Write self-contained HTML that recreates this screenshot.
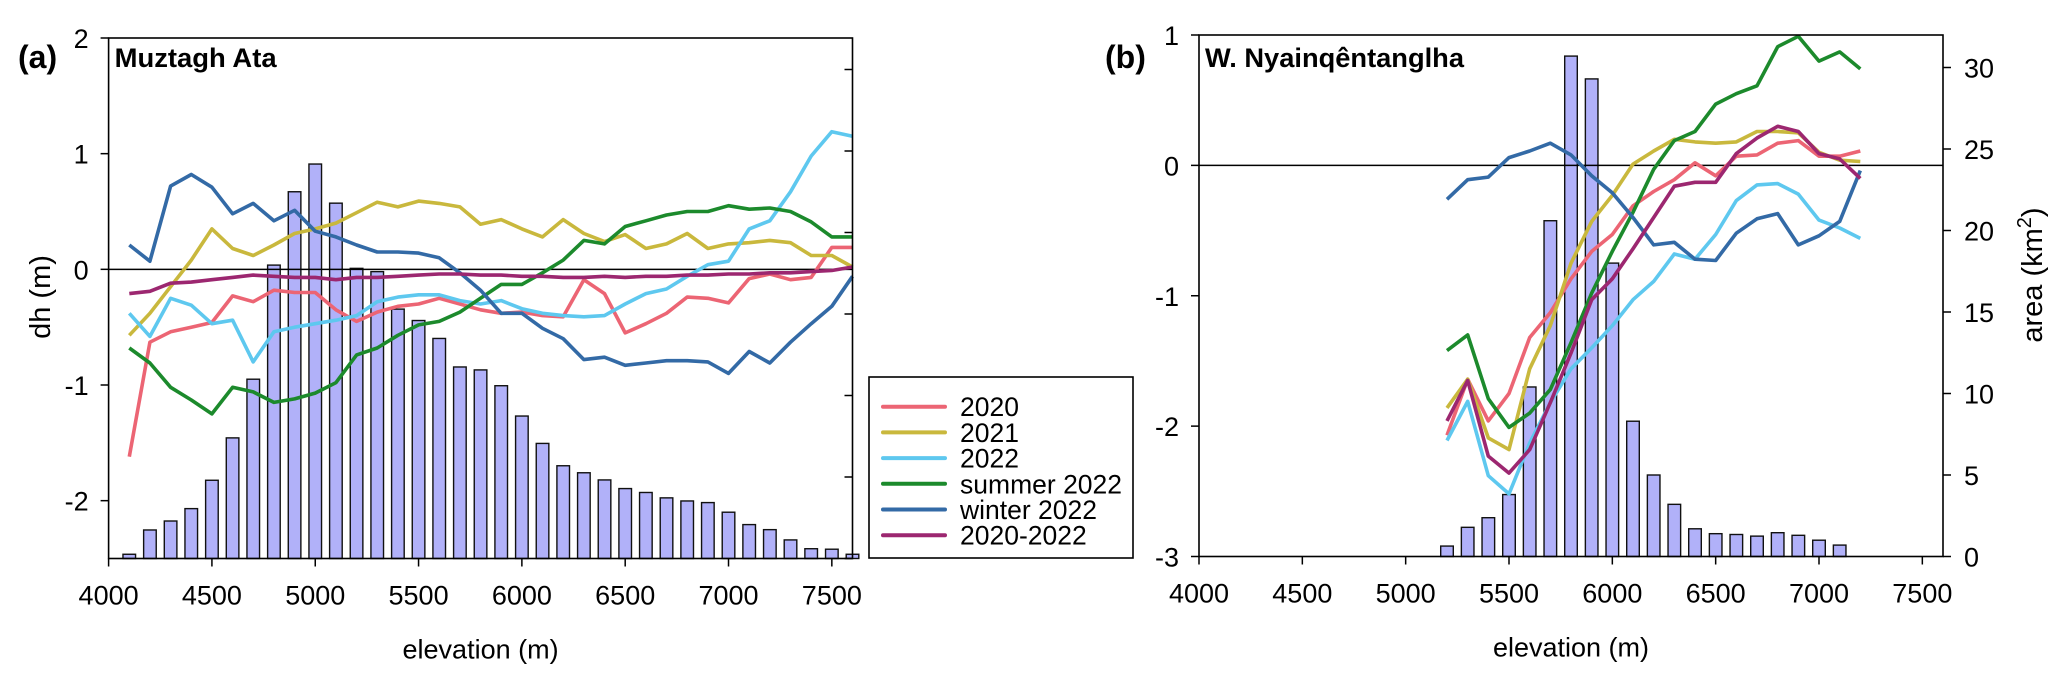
<!DOCTYPE html>
<html><head><meta charset="utf-8"><style>
html,body{margin:0;padding:0;background:#fff;}
svg{display:block;font-family:"Liberation Sans",Arial,sans-serif;}
</style></head><body>
<svg id="fig" width="2067" height="684" viewBox="0 0 2067 684">
  <g id="pa"></g>
  <g id="pb"></g>
  <g id="legend"></g>
</svg>
<script>
const elevA = [4100,4200,4300,4400,4500,4600,4700,4800,4900,5000,5100,5200,5300,5400,5500,5600,5700,5800,5900,6000,6100,6200,6300,6400,6500,6600,6700,6800,6900,7000,7100,7200,7300,7400,7500,7600];
const areaA = [0.26,1.75,2.3,3.06,4.8,7.4,11.0,18.0,22.5,24.2,21.8,17.8,17.6,15.3,14.6,13.5,11.75,11.57,10.6,8.74,7.06,5.69,5.26,4.82,4.29,4.05,3.72,3.53,3.43,2.84,2.08,1.77,1.14,0.6,0.57,0.26];
const a2020 = [-1.62,-0.63,-0.54,-0.5,-0.46,-0.23,-0.28,-0.18,-0.2,-0.2,-0.35,-0.45,-0.37,-0.32,-0.3,-0.25,-0.3,-0.35,-0.38,-0.37,-0.4,-0.41,-0.09,-0.21,-0.55,-0.47,-0.38,-0.24,-0.25,-0.29,-0.08,-0.04,-0.09,-0.07,0.19,0.19];
const a2021 = [-0.57,-0.38,-0.15,0.08,0.35,0.18,0.12,0.21,0.31,0.35,0.4,0.49,0.58,0.54,0.59,0.57,0.54,0.39,0.43,0.35,0.28,0.43,0.31,0.24,0.3,0.18,0.22,0.31,0.18,0.22,0.23,0.25,0.23,0.12,0.12,0.02];
const a2022 = [-0.38,-0.58,-0.25,-0.31,-0.47,-0.44,-0.8,-0.54,-0.5,-0.47,-0.44,-0.4,-0.28,-0.24,-0.22,-0.22,-0.27,-0.3,-0.27,-0.34,-0.38,-0.4,-0.41,-0.4,-0.3,-0.21,-0.17,-0.06,0.04,0.07,0.35,0.42,0.67,0.98,1.19,1.15];
const aSummer = [-0.68,-0.81,-1.02,-1.13,-1.25,-1.02,-1.06,-1.15,-1.12,-1.07,-0.98,-0.74,-0.68,-0.57,-0.48,-0.45,-0.37,-0.25,-0.13,-0.13,-0.03,0.08,0.25,0.22,0.37,0.42,0.47,0.5,0.5,0.55,0.52,0.53,0.5,0.41,0.28,0.28];
const aWinter = [0.21,0.07,0.72,0.82,0.71,0.48,0.57,0.42,0.51,0.33,0.28,0.21,0.15,0.15,0.14,0.1,-0.03,-0.18,-0.38,-0.38,-0.51,-0.6,-0.78,-0.76,-0.83,-0.81,-0.79,-0.79,-0.8,-0.9,-0.71,-0.81,-0.63,-0.47,-0.32,-0.06];
const a2020_22 = [-0.21,-0.19,-0.12,-0.11,-0.09,-0.07,-0.05,-0.06,-0.07,-0.07,-0.09,-0.07,-0.07,-0.06,-0.05,-0.04,-0.04,-0.05,-0.05,-0.06,-0.06,-0.07,-0.07,-0.06,-0.07,-0.06,-0.06,-0.05,-0.05,-0.04,-0.04,-0.03,-0.03,-0.02,-0.01,0.02];

const elevB = [5200,5300,5400,5500,5600,5700,5800,5900,6000,6100,6200,6300,6400,6500,6600,6700,6800,6900,7000,7100,7200];
const areaB = [0.64,1.79,2.38,3.8,10.4,20.6,30.7,29.3,18.0,8.3,5.0,3.2,1.7,1.4,1.35,1.25,1.46,1.3,1.0,0.7];
const b2020 = [-2.07,-1.64,-1.96,-1.75,-1.32,-1.13,-0.87,-0.66,-0.53,-0.31,-0.2,-0.11,0.02,-0.08,0.07,0.08,0.17,0.19,0.07,0.07,0.11];
const b2021 = [-1.86,-1.64,-2.09,-2.18,-1.56,-1.23,-0.75,-0.43,-0.23,0.01,0.11,0.2,0.18,0.17,0.18,0.26,0.26,0.25,0.1,0.04,0.03];
const b2022 = [-2.11,-1.81,-2.38,-2.52,-2.13,-1.82,-1.56,-1.4,-1.23,-1.03,-0.89,-0.68,-0.72,-0.53,-0.27,-0.15,-0.14,-0.22,-0.42,-0.48,-0.56];
const bSummer = [-1.42,-1.3,-1.79,-2.01,-1.9,-1.72,-1.36,-0.98,-0.66,-0.36,-0.03,0.19,0.26,0.47,0.55,0.61,0.91,0.99,0.8,0.87,0.74];
const bWinter = [-0.26,-0.11,-0.09,0.06,0.11,0.17,0.08,-0.08,-0.21,-0.4,-0.61,-0.59,-0.72,-0.73,-0.52,-0.41,-0.37,-0.61,-0.54,-0.43,-0.04];
const b2020_22 = [-1.96,-1.65,-2.23,-2.36,-2.18,-1.82,-1.44,-1.03,-0.87,-0.64,-0.4,-0.16,-0.13,-0.13,0.09,0.21,0.3,0.26,0.09,0.05,-0.1];

const xTicks = [4000,4500,5000,5500,6000,6500,7000,7500];
const yTicksA = [2,1,0,-1,-2];
const yTicksB = [1,0,-1,-2,-3];
const areaTicks = [0,5,10,15,20,25,30];
const seriesNames = ["2020","2021","2022","summer 2022","winter 2022","2020-2022"];
const colors = ["#ec6574","#c9b83d","#5ec8ef","#1c8a2c","#336aa6","#9c2770"];

const NS = "http://www.w3.org/2000/svg";
function mk(parent, tag, attrs, text) {
  const e = document.createElementNS(NS, tag);
  for (const k in attrs) e.setAttribute(k, attrs[k]);
  if (text !== undefined) e.textContent = text;
  parent.appendChild(e);
  return e;
}

function drawPanel(g, cfg) {
  const xs = e => cfg.x0 + (e - 4000) * (cfg.x1 - cfg.x0) / 3600;
  const ys = v => cfg.yBot - (v - cfg.yMin) * (cfg.yBot - cfg.yTop) / (cfg.yMax - cfg.yMin);
  const ya = a => cfg.yBot - a * 16.3;
  // bars
  cfg.area.forEach((a, i) => {
    const r = mk(g, "rect", {x: xs(cfg.elev[i]) - 6.3, y: ya(a), width: 12.6, height: Math.max(0, cfg.yBot - ya(a)), fill: "#b1b1f9", stroke: "#111", "stroke-width": 1.4});
    
    
  });
  // zero line
  const z = mk(g, "line", {x1: cfg.x0, x2: cfg.x1, y1: ys(0), y2: ys(0), stroke: "#000", "stroke-width": 1.5});
  
  
  // series
  cfg.series.forEach((s, k) => {
    const pts = s.map((v, i) => xs(cfg.elev[i]).toFixed(1) + "," + ys(v).toFixed(1)).join(" ");
    const p = mk(g, "polyline", {points: pts, fill: "none", stroke: colors[k], "stroke-width": 3.6, "stroke-linejoin": "round"});
    
    
  });
  // frame
  const fr = mk(g, "rect", {x: cfg.x0, y: cfg.yTop, width: cfg.x1 - cfg.x0, height: cfg.yBot - cfg.yTop, fill: "none", stroke: "#000", "stroke-width": 1.6});
  
  
  // x ticks
  xTicks.forEach(t => {
    const x = xs(t);
    mk(g, "line", {x1: x, x2: x, y1: cfg.yBot, y2: cfg.yBot + 8, stroke: "#000", "stroke-width": 1.5});
    const tl = mk(g, "text", {x: x, y: cfg.yBot + 46, "font-size": 27, "text-anchor": "middle"}, String(t));
    
    
  });
  // y ticks
  cfg.yTicks.forEach(t => {
    const y = ys(t);
    mk(g, "line", {x1: cfg.x0 - 8, x2: cfg.x0, y1: y, y2: y, stroke: "#000", "stroke-width": 1.5});
    const tl = mk(g, "text", {x: cfg.x0 - 20, y: y + 10, "font-size": 27, "text-anchor": "end"}, String(t));
    
    
  });
  // area ticks
  areaTicks.forEach(t => {
    const y = ya(t);
    if (cfg.areaLabels) {
      mk(g, "line", {x1: cfg.x1, x2: cfg.x1 + 8, y1: y, y2: y, stroke: "#000", "stroke-width": 1.5});
      const tl = mk(g, "text", {x: cfg.x1 + 21, y: y + 10, "font-size": 27}, String(t));
      
      
    } else {
      mk(g, "line", {x1: cfg.x1 - 8, x2: cfg.x1, y1: y, y2: y, stroke: "#000", "stroke-width": 1.5});
    }
  });
  const xl = mk(g, "text", {x: (cfg.x0 + cfg.x1) / 2 + 0, y: cfg.yBot + 100, "font-size": 27, "text-anchor": "middle"}, "elevation (m)");
  
  
  const pl = mk(g, "text", {x: cfg.labelX, y: 68, "font-size": 32, "font-weight": "bold"}, cfg.panelLabel);
  
  
  const tt = mk(g, "text", {x: cfg.x0 + 6, y: 67, "font-size": 27, "font-weight": "bold", textLength: cfg.titleW, lengthAdjust: "spacingAndGlyphs"}, cfg.title);
  
  
}

drawPanel(document.getElementById("pa"), {x0: 108.6, x1: 852.5, yTop: 38, yBot: 558.5, yMin: -2.5, yMax: 2,
  elev: elevA, area: areaA, series: [a2020, a2021, a2022, aSummer, aWinter, a2020_22],
  yTicks: yTicksA, areaLabels: false, panelLabel: "(a)", labelX: 18, title: "Muztagh Ata", titleW: 162});
drawPanel(document.getElementById("pb"), {x0: 1199, x1: 1943, yTop: 35, yBot: 556.5, yMin: -3, yMax: 1,
  elev: elevB, area: areaB, series: [b2020, b2021, b2022, bSummer, bWinter, b2020_22],
  yTicks: yTicksB, areaLabels: true, panelLabel: "(b)", labelX: 1105, title: "W. Nyainqêntanglha", titleW: 259});

const pa = document.getElementById("pa");
const dl = mk(pa, "text", {x: 0, y: 0, "font-size": 29, "text-anchor": "middle", transform: "translate(50,297) rotate(-90)"}, "dh (m)");


const pb = document.getElementById("pb");
const al = mk(pb, "text", {x: 0, y: 0, "font-size": 29, "text-anchor": "middle", transform: "translate(2042,275) rotate(-90)"});


al.appendChild(document.createTextNode("area (km"));
const sup = mk(al, "tspan", {dy: -11, "font-size": 20}, "2");
mk(al, "tspan", {dy: 11}, ")");

const lg = document.getElementById("legend");
const box = mk(lg, "rect", {x: 869, y: 377, width: 264, height: 181, fill: "#fff", stroke: "#000", "stroke-width": 1.6});


seriesNames.forEach((n, k) => {
  const y = 406.7 + k * 25.7;
  const ln = mk(lg, "line", {x1: 883, x2: 945, y1: y, y2: y, stroke: colors[k], "stroke-width": 4, "stroke-linecap": "round"});
  
  
  const t = mk(lg, "text", {x: 960, y: y + 9.5, "font-size": 26.5}, n);
  
  
});
</script>
</body></html>
